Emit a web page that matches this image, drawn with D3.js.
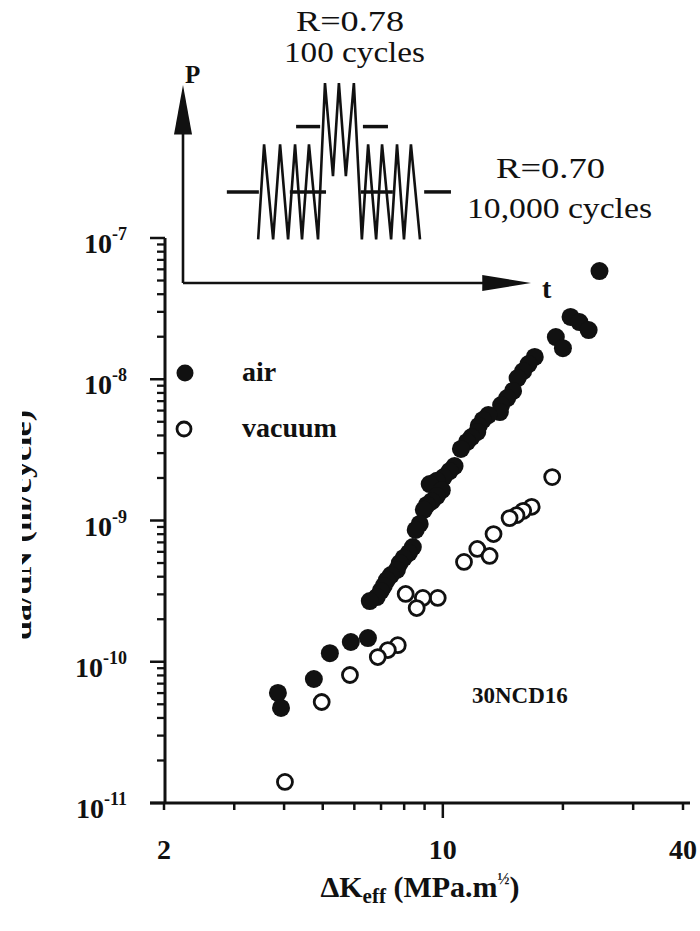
<!DOCTYPE html>
<html>
<head>
<meta charset="utf-8">
<title>30NCD16 crack growth</title>
<script src="https://cdn.jsdelivr.net/npm/d3@7"></script>
<style>
  body { margin: 0; background: #fff; }
  text { font-family: "Liberation Serif", "Times New Roman", serif; fill: #111; }
</style>
</head>
<body>
<svg id="mainsvg" width="700" height="931"></svg>
<script>
// data: dK_eff (MPa.m^1/2) and da/dN (m/cycle)
const airDK = [24.7, 20.9, 22.0, 23.2, 19.2, 20.0, 17.0, 16.4, 15.9, 15.4, 15.0, 14.5, 14.0, 13.9,
  13.0, 12.6, 12.3, 12.2, 11.8, 11.5, 11.1, 10.7, 10.4, 10.05, 9.66, 9.27, 9.94, 9.66, 9.38, 9.12,
  8.96, 8.75, 8.55, 8.41, 8.22, 7.98, 7.80, 7.67, 7.41, 7.24, 7.11, 6.99, 6.83, 6.56, 6.49, 5.88,
  5.21, 4.75, 3.86, 3.93]
const airRate = [5.83e-8, 2.76e-8, 2.54e-8, 2.23e-8, 1.99e-8, 1.66e-8, 1.44e-8, 1.28e-8, 1.14e-8,
  1.02e-8, 8.26e-9, 7.36e-9, 6.57e-9, 5.86e-9, 5.58e-9, 5.15e-9, 4.67e-9, 4.24e-9, 3.90e-9, 3.60e-9,
  3.21e-9, 2.43e-9, 2.24e-9, 2.03e-9, 1.91e-9, 1.81e-9, 1.64e-9, 1.49e-9, 1.37e-9, 1.29e-9, 1.19e-9,
  9.45e-10, 8.57e-10, 6.49e-10, 5.89e-10, 5.43e-10, 5.00e-10, 4.47e-10, 4.11e-10, 3.79e-10, 3.44e-10,
  3.17e-10, 2.87e-10, 2.69e-10, 1.47e-10, 1.38e-10, 1.15e-10, 7.55e-11, 6.01e-11, 4.71e-11]
const vacDK = [18.8, 16.7, 15.9, 15.3, 14.7, 13.4, 12.2, 13.1, 11.3, 9.71, 8.91, 8.07, 8.60, 7.71,
  7.28, 6.87, 5.85, 4.97, 4.02]
const vacRate = [2.03e-9, 1.25e-9, 1.17e-9, 1.09e-9, 1.04e-9, 8.02e-10, 6.29e-10, 5.61e-10, 5.09e-10,
  2.83e-10, 2.83e-10, 3.02e-10, 2.40e-10, 1.31e-10, 1.21e-10, 1.08e-10, 8.06e-11, 5.19e-11, 1.41e-11]

const xTickLabels = [2, 10, 40]
const xMinorTicks = [2, 3, 4, 5, 6, 7, 8, 9, 20, 30, 40]
const yExponents = [-7, -8, -9, -10, -11]

// loading schematic (arbitrary units): [t, P]
const waveLow1 = [[21.6, 22], [23.3, 70], [25.9, 22], [27.9, 70], [30.2, 22], [32.2, 70], [34.2, 22], [36.2, 70], [38.8, 22]]
const waveHigh = [[40.8, 101], [43.1, 54], [44.8, 101], [46.8, 54], [49.1, 101]]
const waveLow2 = [[51.4, 22], [53.2, 70], [55.5, 22], [57.2, 70], [59.8, 22], [61.5, 70], [63.5, 22], [65.5, 70], [68.1, 22]]
// mean load levels: [P, t start, t end]
const meanDashes = [[46, 12.6, 21.8], [46, 30.7, 41.1], [46, 51.1, 60.3], [46, 69.3, 77.0],
  [79, 32.5, 39.4], [79, 51.7, 58.9]]

const svg = d3.select('#mainsvg')
const ink = '#111'

const x = d3.scaleLog().domain([2, 40]).range([164, 683])
const y = d3.scaleLog().domain([1e-11, 1e-7]).range([803, 238])

// ---- inset: load vs time ----
const tI = d3.scaleLinear().domain([0, 100]).range([183, 531])
const pI = d3.scaleLinear().domain([0, 100]).range([283, 85])
const inset = svg.append('g')

inset.append('line')
  .attr('x1', tI(0)).attr('y1', pI(0)).attr('x2', tI(0)).attr('y2', pI(80))
  .attr('stroke', ink).attr('stroke-width', 2.6)
inset.append('path')
  .attr('d', `M${tI(0)},${pI(100)} L${tI(0) - 9},${pI(75)} L${tI(0) + 9},${pI(75)} Z`)
  .attr('fill', ink)
inset.append('line')
  .attr('x1', tI(0)).attr('y1', pI(0)).attr('x2', tI(88)).attr('y2', pI(0))
  .attr('stroke', ink).attr('stroke-width', 2.6)
inset.append('path')
  .attr('d', `M${tI(100)},${pI(0)} L${tI(86)},${pI(0) - 8} L${tI(86)},${pI(0) + 8} Z`)
  .attr('fill', ink)

const wave = waveLow1.concat(waveHigh, waveLow2)
inset.append('path')
  .attr('d', d3.line().x(d => tI(d[0])).y(d => pI(d[1]))(wave))
  .attr('fill', 'none').attr('stroke', ink).attr('stroke-width', 2.6)
  .attr('stroke-linejoin', 'miter')

inset.selectAll('line.mean').data(meanDashes).join('line')
  .attr('class', 'mean')
  .attr('x1', d => tI(d[1])).attr('x2', d => tI(d[2]))
  .attr('y1', d => pI(d[0])).attr('y2', d => pI(d[0]))
  .attr('stroke', ink).attr('stroke-width', 3.5)

inset.append('text').attr('x', 185).attr('y', 83)
  .attr('font-weight', 'bold').attr('font-size', 25).text('P')
inset.append('text').attr('x', 542).attr('y', 298)
  .attr('font-weight', 'bold').attr('font-size', 28).text('t')

const insetLabels = [
  { text: 'R=0.78', x: 296, y: 31, w: 108 },
  { text: '100 cycles', x: 284, y: 62, w: 141 },
  { text: 'R=0.70', x: 496, y: 178, w: 109 },
  { text: '10,000 cycles', x: 467, y: 218, w: 185 }
]
inset.selectAll('text.lab').data(insetLabels).join('text')
  .attr('class', 'lab')
  .attr('x', d => d.x).attr('y', d => d.y).attr('font-size', 29)
  .attr('textLength', d => d.w).attr('lengthAdjust', 'spacingAndGlyphs')
  .text(d => d.text)

// ---- axes ----
const gx = svg.append('g')
gx.selectAll('line.minor').data(xMinorTicks).join('line')
  .attr('x1', d => x(d)).attr('x2', d => x(d))
  .attr('y1', 803).attr('y2', 810)
  .attr('stroke', ink).attr('stroke-width', 2.5)
gx.append('line').attr('x1', x(10)).attr('x2', x(10)).attr('y1', 803).attr('y2', 818)
  .attr('stroke', ink).attr('stroke-width', 2.5)
gx.append('line').attr('x1', 150).attr('x2', 690).attr('y1', 803).attr('y2', 803)
  .attr('stroke', ink).attr('stroke-width', 3)
gx.selectAll('text.tl').data(xTickLabels).join('text')
  .attr('x', d => x(d)).attr('y', 859)
  .attr('text-anchor', 'middle').attr('font-weight', 'bold').attr('font-size', 28)
  .text(d => d)

const yMinor = []
for (let e = -11; e < -7; e++) for (let m = 2; m <= 9; m++) yMinor.push(m * Math.pow(10, e))
const gy = svg.append('g')
gy.selectAll('line.minor').data(yMinor).join('line')
  .attr('x1', 157).attr('x2', 165)
  .attr('y1', d => y(d)).attr('y2', d => y(d))
  .attr('stroke', ink).attr('stroke-width', 2.3)
gy.selectAll('line.major').data(yExponents).join('line')
  .attr('x1', 150).attr('x2', 165)
  .attr('y1', d => y(Math.pow(10, d))).attr('y2', d => y(Math.pow(10, d)))
  .attr('stroke', ink).attr('stroke-width', 2.5)
gy.append('line').attr('x1', 165).attr('x2', 165).attr('y1', 238).attr('y2', 803)
  .attr('stroke', ink).attr('stroke-width', 3)
const yl = gy.selectAll('text.tl').data(yExponents).join('text')
  .attr('x', 127).attr('y', d => y(Math.pow(10, d)) + 15)
  .attr('text-anchor', 'end').attr('font-weight', 'bold').attr('font-size', 28)
yl.append('tspan').text('10')
yl.append('tspan').attr('dy', -13).attr('font-size', 18).text(d => String(d))

// axis titles
const xt = svg.append('text').attr('x', 420).attr('y', 897)
  .attr('text-anchor', 'middle').attr('font-weight', 'bold').attr('font-size', 30)
xt.append('tspan').text('ΔK')
xt.append('tspan').attr('dy', 6).attr('font-size', 21).text('eff')
xt.append('tspan').attr('dy', -6).text(' (MPa.m')
xt.append('tspan').attr('dy', -13).attr('font-size', 16).text('½')
xt.append('tspan').attr('dy', 13).text(')')

svg.append('clipPath').attr('id', 'ycut')
  .append('rect').attr('x', 22).attr('y', 300).attr('width', 40).attr('height', 400)
svg.append('g').attr('clip-path', 'url(#ycut)')
  .append('text')
  .attr('transform', 'translate(31,525) rotate(-90)')
  .attr('text-anchor', 'middle').attr('font-weight', 'bold').attr('font-size', 28)
  .attr('textLength', 230).attr('lengthAdjust', 'spacingAndGlyphs')
  .attr('fill', '#333')
  .text('da/dN (m/cycle)')

// ---- data ----
const air = airDK.map((d, i) => [d, airRate[i]])
const vac = vacDK.map((d, i) => [d, vacRate[i]])

svg.append('g').selectAll('circle').data(air).join('circle')
  .attr('cx', d => x(d[0])).attr('cy', d => y(d[1])).attr('r', 9)
  .attr('fill', ink)
svg.append('g').selectAll('circle').data(vac).join('circle')
  .attr('cx', d => x(d[0])).attr('cy', d => y(d[1])).attr('r', 7.5)
  .attr('fill', '#fff').attr('stroke', ink).attr('stroke-width', 2.8)

// legend
svg.append('circle').attr('cx', 185).attr('cy', 373).attr('r', 8.5).attr('fill', ink)
svg.append('circle').attr('cx', 184).attr('cy', 429).attr('r', 7)
  .attr('fill', '#fff').attr('stroke', ink).attr('stroke-width', 2.8)
svg.append('text').attr('x', 242).attr('y', 381)
  .attr('font-weight', 'bold').attr('font-size', 28).text('air')
svg.append('text').attr('x', 242).attr('y', 437)
  .attr('font-weight', 'bold').attr('font-size', 28).text('vacuum')

svg.append('text').attr('x', 472).attr('y', 703)
  .attr('font-weight', 'bold').attr('font-size', 23).text('30NCD16')
</script>
</body>
</html>
